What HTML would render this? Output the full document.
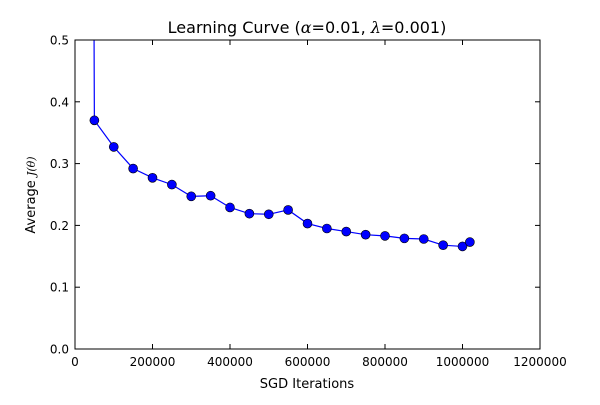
<!DOCTYPE html>
<html><head><meta charset="utf-8"><style>
body{margin:0;background:#fff;}
text{font-family:"DejaVu Sans","Liberation Sans",sans-serif;fill:#000;}
</style></head><body>
<svg id="chart" width="600" height="400" viewBox="0 0 600 400">
<defs><clipPath id="clip"><rect x="75" y="40" width="465" height="309"/></clipPath></defs>
<rect x="0" y="0" width="600" height="400" fill="#fff"/>
<text x="307" y="33" font-size="16" text-anchor="middle">Learning Curve (<tspan font-style="italic" font-family="DejaVu Serif,serif">α</tspan>=0.01, <tspan font-style="italic" font-family="DejaVu Serif,serif">λ</tspan>=0.001)</text>
<g id="axes"></g>
<g id="series" clip-path="url(#clip)"></g>
<rect x="75" y="40" width="465" height="309" fill="none" stroke="#000" stroke-width="1"/>
<text x="307" y="388" font-size="13" text-anchor="middle">SGD Iterations</text>
<text transform="translate(35,195) rotate(-90)" font-size="13" text-anchor="middle">Average <tspan font-style="italic" font-family="DejaVu Serif,serif" font-size="11">J(θ)</tspan></text>
</svg>
<script>
const iterations=[45000,50000,100000,150000,200000,250000,300000,350000,400000,450000,500000,550000,600000,650000,700000,750000,800000,850000,900000,950000,1000000,1019000];
const avgCost=[1.2,0.370,0.327,0.292,0.277,0.266,0.247,0.248,0.229,0.219,0.218,0.225,0.203,0.195,0.190,0.185,0.183,0.179,0.178,0.168,0.166,0.173];
const showMarker=[false,true,true,true,true,true,true,true,true,true,true,true,true,true,true,true,true,true,true,true,true,true];
const xTicks=[0,200000,400000,600000,800000,1000000,1200000];
const yTicks=[0.0,0.1,0.2,0.3,0.4,0.5];
const yTickLabels=["0.0","0.1","0.2","0.3","0.4","0.5"];
const NS="http://www.w3.org/2000/svg";
const L=75,R=540,T=40,B=349;
const xs=v=>L+(v-0)/1200000*(R-L);
const ys=v=>B-(v-0)/0.5*(B-T);
const axes=document.getElementById('axes'),ser=document.getElementById('series');
function mk(tag,attrs,parent){const e=document.createElementNS(NS,tag);for(const k in attrs)e.setAttribute(k,attrs[k]);parent.appendChild(e);return e;}
xTicks.forEach(t=>{
  const x=xs(t);
  const a=mk('line',{x1:x,x2:x,y1:B,y2:B-5,stroke:'#000'},axes);
  
  
  const b=mk('line',{x1:x,x2:x,y1:T,y2:T+5,stroke:'#000'},axes);
  
  
  const tx=mk('text',{x:x,y:B+17,'font-size':12,'text-anchor':'middle'},axes);
  tx.textContent=String(t);
  
  
});
yTicks.forEach((t,i)=>{
  const y=ys(t);
  const a=mk('line',{x1:L,x2:L+5,y1:y,y2:y,stroke:'#000'},axes);
  
  
  const b=mk('line',{x1:R,x2:R-5,y1:y,y2:y,stroke:'#000'},axes);
  
  
  const tx=mk('text',{x:L-6,y:y+4.5,'font-size':12,'text-anchor':'end'},axes);
  tx.textContent=yTickLabels[i];
  
  
});
const pts=iterations.map((v,i)=>xs(v)+','+ys(avgCost[i])).join(' ');
const line=mk('polyline',{points:pts,fill:'none',stroke:'#0000ff','stroke-width':1.2},ser);


iterations.forEach((v,i)=>{
  if(!showMarker[i])return;
  const c=mk('circle',{cx:xs(v),cy:ys(avgCost[i]),r:4.5,fill:'#0000ff',stroke:'#000','stroke-width':0.6},ser);
  
  
});
</script>
</body></html>
